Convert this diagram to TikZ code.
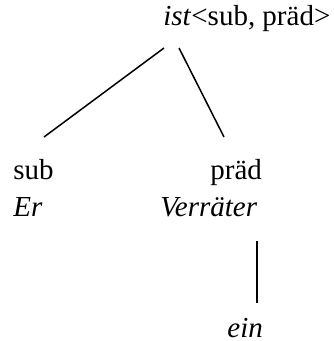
\documentclass[tikz,border=0pt]{standalone}
\usepackage{fontspec}
\setmainfont{Liberation Serif}
\usetikzlibrary{positioning}
\begin{document}
\begin{tikzpicture}[x=0.5pt,y=-0.5pt,word/.style={inner sep=0pt,anchor=base west,font=\fontsize{14.5}{17}\selectfont},edge/.style={line width=0.75pt}]
\useasboundingbox (0,0) rectangle (333,341);
\node [word] (ist) at (163,26) {\textit{ist}<sub, präd>};
\node [word] (sub) at (13,180) {sub};
\node [word] (praed) at (210,180) {präd};
\node [word] (er) at (13,216) {\textit{Er}};
\node [word] (verr) at (160,216) {\textit{Verräter}};
\node [word] (ein) at (227,337) {\textit{ein}};
\coordinate (istL) at (164,48);
\coordinate (istR) at (179,48);
\coordinate (subT) at (44,137);
\coordinate (praedT) at (224,137);
\coordinate (verrB) at (257,241);
\coordinate (einT) at (257,303);
\draw [edge] (istL)--(subT);
\draw [edge] (istR)--(praedT);
\draw [edge] (verrB)--(einT);
\end{tikzpicture}
\end{document}
